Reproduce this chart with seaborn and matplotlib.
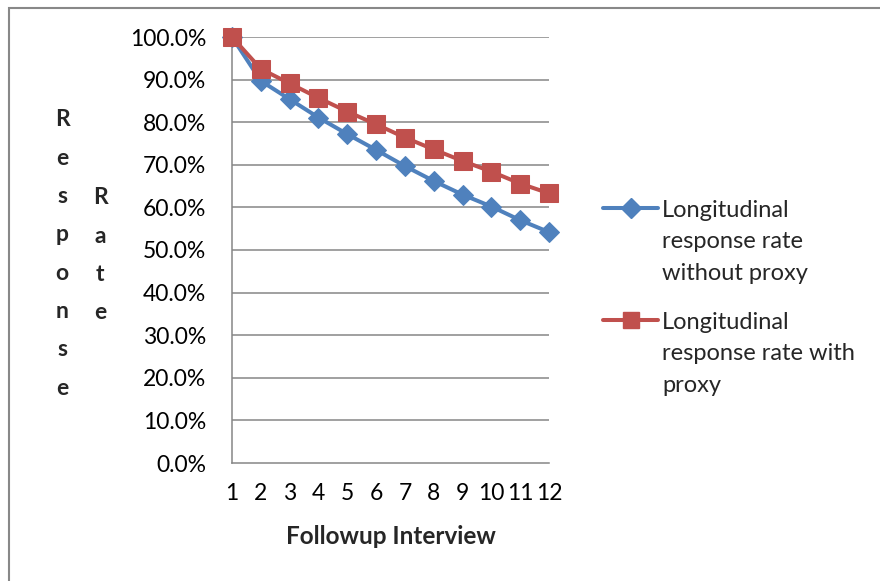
import matplotlib
matplotlib.use("Agg")
import matplotlib.pyplot as plt
from matplotlib.lines import Line2D
from matplotlib.patches import Rectangle
from matplotlib.ticker import PercentFormatter
import pandas as pd
import seaborn as sns

# Followup interview waves and longitudinal response rates
interviews = list(range(1, 13))
rate_without_proxy = [1.000, 0.897, 0.854, 0.811, 0.772, 0.735, 0.697, 0.662, 0.630, 0.602, 0.570, 0.542]
rate_with_proxy = [1.000, 0.925, 0.891, 0.857, 0.825, 0.795, 0.764, 0.736, 0.709, 0.684, 0.656, 0.633]
series_names = ["Longitudinal response rate without proxy",
                "Longitudinal response rate with proxy"]
legend_lines = [["Longitudinal", "response rate", "without proxy"],
                ["Longitudinal", "response rate with", "proxy"]]
y_ticks = [i / 10 for i in range(11)]

blue = "#4F81BD"
red = "#C0504D"
grid_gray = "#868686"
FS = 16.5
LW = 2.9

sns.set_theme(style="white")
plt.rcParams["font.family"] = ["Lato", "DejaVu Sans"]

df = pd.DataFrame({
    "interview": interviews * 2,
    "rate": rate_without_proxy + rate_with_proxy,
    "series": [series_names[0]] * 12 + [series_names[1]] * 12,
})

W, H = 880, 581
fig = plt.figure(figsize=(W / 100, H / 100), dpi=100)
ax = fig.add_axes([232 / W, 1 - 463 / H, (549 - 232) / W, (463 - 37) / H])

styles = {
    series_names[0]: dict(color=blue, marker="D", markersize=10.5),
    series_names[1]: dict(color=red, marker="s", markersize=12.5),
}
for z, name in enumerate(series_names):
    st = styles[name]
    sns.lineplot(data=df[df.series == name], x="interview", y="rate",
                 color=st["color"], marker=st["marker"], markersize=st["markersize"],
                 markeredgecolor=st["color"], linewidth=LW, ax=ax,
                 clip_on=False, zorder=4 + z, legend=False)

ax.set_xlim(1, 12)
ax.set_ylim(0, 1)
ax.set_xticks(interviews)
ax.set_xticklabels([str(i) for i in interviews])
ax.set_yticks(y_ticks)
ax.yaxis.set_major_formatter(PercentFormatter(xmax=1, decimals=1))

for y in y_ticks[1:]:
    ax.axhline(y, color=grid_gray, linewidth=1.1, zorder=1)

for side in ["top", "right"]:
    ax.spines[side].set_visible(False)
for side in ["left", "bottom"]:
    ax.spines[side].set_color(grid_gray)
    ax.spines[side].set_linewidth(1.1)

ax.tick_params(axis="both", which="major", direction="out", length=5.5,
               width=1.1, color=grid_gray, labelsize=FS, labelcolor="black")
ax.tick_params(axis="y", pad=13)
ax.tick_params(axis="x", pad=9)
ax.set_xlabel("")
ax.set_ylabel("")

fig.text(390.5 / W, 1 - 536 / H, "Followup Interview", ha="center", va="center",
         fontsize=17.5, fontweight="bold")

# Axis title wrapped one letter per line, in two columns
for word, xpix, start in [("Response", 62, 120), ("Rate", 100, 198)]:
    for i, ch in enumerate(word):
        fig.text(xpix / W, 1 - (start + i * 38.3) / H, ch, ha="center", va="center",
                 fontsize=FS, fontweight="bold")

# Legend: handle aligned with the first text line, wrapped labels
for name, handle_y, lines in [(series_names[0], 208, legend_lines[0]),
                              (series_names[1], 320, legend_lines[1])]:
    st = styles[name]
    fig.add_artist(Line2D([603 / W, 658 / W], [1 - handle_y / H] * 2,
                          transform=fig.transFigure, color=st["color"], linewidth=LW))
    fig.add_artist(Line2D([630.5 / W], [1 - handle_y / H], transform=fig.transFigure,
                          color=st["color"], marker=st["marker"],
                          markersize=st["markersize"] * 0.95, linestyle="none"))
    for k, line in enumerate(lines):
        fig.text(662 / W, 1 - (handle_y + 9 + k * 31.5) / H, line, ha="left",
                 va="baseline", fontsize=17)

# Chart area border
fig.add_artist(Rectangle((9 / W, -0.1), 2.0, (1 - 8 / H) + 0.1,
                         transform=fig.transFigure, fill=False,
                         edgecolor="#888888", linewidth=1.5, clip_on=False))

fig.savefig("out.png", dpi=100)
